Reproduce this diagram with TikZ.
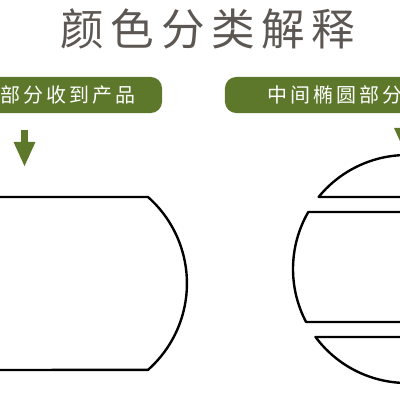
\documentclass[tikz,border=0pt]{standalone}
\usepackage{fontspec}
\newfontfamily\cjk{Noto Sans CJK SC}
\definecolor{banner_c}{rgb}{
	0.37, 0.47, 0.17
	}
\definecolor{title_c}{rgb}{
	0.36, 0.34, 0.32
	}
\usetikzlibrary{arrows.meta,
                calc}

\begin{document}
\begin{tikzpicture}[
			x=0.025cm, y=-0.025cm,
			title/.style = {text=title_c, inner sep=0pt, font=\cjk\fontsize{31}{36}\selectfont\addfontfeature{LetterSpace=15}},
			banner/.style = {rounded corners=8pt, fill=banner_c, text=white, minimum height=0.9cm, inner sep=0pt, font=\cjk\fontsize{14.2}{16}\selectfont\addfontfeature{LetterSpace=15}},
			outline/.style = {draw=black, line width=1.7pt, line join=round},
			downarrow/.style = {draw=banner_c, line width=4.3pt, -{Triangle[width=14.2pt, length=17.8pt]}},
			]
			\useasboundingbox (0,0) rectangle (400,400);
			\clip (0,0) rectangle (400,400);
			% title
			\node[title] (title) at (208,29) {颜色分类解释};
			% banners
			\node[banner, minimum width=4.7cm] (left) at (68,95) {部分收到产品};
			\node[banner, minimum width=5.5cm] (right) at (335,95) {中间椭圆部分};
			% arrows
			\coordinate (lt) at (24.5,130);
			\coordinate (lb) at (24.5,167);
			\coordinate (rt) at (405,116);
			\coordinate (rb) at (405,153);
			\draw[downarrow] (lt) -- (lb);
			\draw[downarrow] (rt) -- (rb);
			% left shape
			\draw[outline] (-10,197) -- (148,197) arc[start angle=-48.5, end angle=48.5, radius=115.4] -- (-10,370);
			% circle cut in three
			\coordinate (ctr) at (407,269);
			\draw[outline] ([shift={(ctr)}]219.2:114) arc[start angle=219.2, end angle=320.8, radius=114] -- cycle;
			\draw[outline] ([shift={(ctr)}]-30:114) -- ([shift={(ctr)}]210:114) arc[start angle=210, end angle=152.3, radius=114] -- ([shift={(ctr)}]27.7:114);
			\draw[outline] ([shift={(ctr)}]143.4:114) arc[start angle=143.4, end angle=36.6, radius=114] -- cycle;
		\end{tikzpicture}
\end{document}
